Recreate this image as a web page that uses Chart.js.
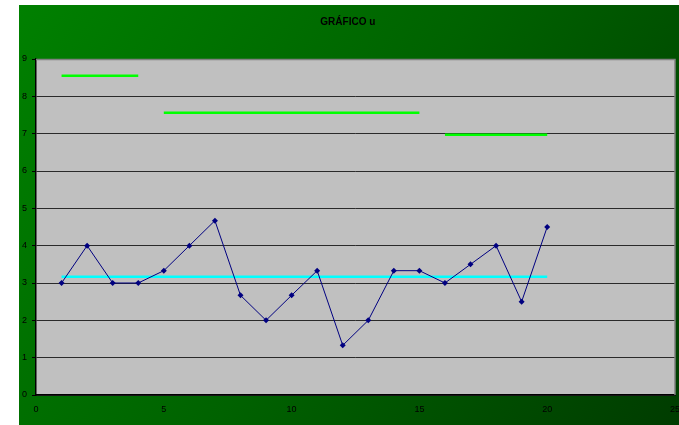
<!DOCTYPE html>
<html>
<head>
<meta charset="utf-8">
<script src="https://cdn.jsdelivr.net/npm/chart.js@4/dist/chart.umd.min.js"></script>
<style>
html,body{margin:0;padding:0;background:#fff;}
#wrap{width:679px;height:425px;}
</style>
</head>
<body>
<div id="wrap"><canvas id="grafico"></canvas></div>
<script>
// muestras y valores
var muestras=[1,2,3,4,5,6,7,8,9,10,11,12,13,14,15,16,17,18,19,20]
var u=[3,4,3,3,3.33,4,4.67,2.67,2,2.67,3.33,1.33,2,3.33,3.33,3,3.5,4,2.5,4.5]
var lsc=[8.55,8.55,8.55,8.55,7.56,7.56,7.56,7.56,7.56,7.56,7.56,7.56,7.56,7.56,7.56,6.97,6.97,6.97,6.97,6.97]
var lc=[3.17,3.17,3.17,3.17,3.17,3.17,3.17,3.17,3.17,3.17,3.17,3.17,3.17,3.17,3.17,3.17,3.17,3.17,3.17,3.17]
var ticksX=[0,5,10,15,20,25]
var ticksY=[0,1,2,3,4,5,6,7,8,9]

function pares(arr){
  return muestras.map((m,i)=>({x:m,y:arr[i]}))
}

// fondo verde degradado y marco del area de trazado
var fondo={
  id:'fondo',
  beforeDraw(chart){
    var c=chart.ctx
    var g=c.createLinearGradient(19,5,679,425)
    g.addColorStop(0,'#008000')
    g.addColorStop(0.5,'#006200')
    g.addColorStop(1,'#003c00')
    c.save()
    c.fillStyle=g
    c.fillRect(19,5,660,420)
    var a=chart.chartArea
    c.fillStyle='#c0c0c0'
    c.fillRect(a.left,a.top,a.right-a.left,a.bottom-a.top)
    c.restore()
  },
  afterDatasetsDraw(chart){
    var c=chart.ctx, a=chart.chartArea
    c.save()
    c.strokeStyle='#808080'
    c.lineWidth=1.5
    c.beginPath()
    c.moveTo(a.left,a.top+0.5)
    c.lineTo(a.right,a.top+0.5)
    c.lineTo(a.right,a.bottom)
    c.stroke()
    c.restore()
  }
}

var fuente={family:'Arial, "Liberation Sans"',size:9}

var ctx=document.getElementById('grafico').getContext('2d')
new Chart(ctx,{
  type:'line',
  data:{
    datasets:[
      {label:'u',data:pares(u),borderColor:'#000080',backgroundColor:'#000080',borderWidth:1,
       pointStyle:'rectRot',pointRadius:3,pointBorderWidth:0,order:1},
      {label:'LC',data:pares(lc),borderColor:'#00ffff',borderWidth:2.5,pointRadius:0,order:2},
      {label:'LSC',data:pares(lsc),borderColor:'#00ff00',borderWidth:2.5,pointRadius:0,order:3,
       segment:{borderColor:s=>s.p0.parsed.y!==s.p1.parsed.y?'rgba(0,0,0,0)':'#00ff00'}}
    ]
  },
  options:{
    responsive:true,
    maintainAspectRatio:false,
    animation:false,
    layout:{padding:{left:19,top:5,right:2.4,bottom:0}},
    plugins:{
      legend:{display:false},
      tooltip:{enabled:false},
      title:{display:true,text:'GRÁFICO u',color:'#000',
        font:{family:'Arial, "Liberation Sans"',size:10,weight:'bold'},
        padding:{top:11,bottom:31}}
    },
    scales:{
      x:{type:'linear',min:0,max:25,
        afterBuildTicks:s=>{s.ticks=ticksX.map(v=>({value:v}))},
        afterFit:s=>{s.height=30;s.paddingLeft=0;s.paddingRight=0},
        grid:{display:false,drawOnChartArea:false,drawTicks:true,tickLength:4,tickColor:'#000'},
        border:{display:true,color:'#000',width:1.5},
        ticks:{color:'#000',padding:5,maxRotation:0,font:fuente}},
      y:{min:0,max:9,
        afterBuildTicks:s=>{s.ticks=ticksY.map(v=>({value:v}))},
        afterFit:s=>{s.width=17;s.paddingTop=0;s.paddingBottom=0},
        grid:{color:'#2a2a2a',lineWidth:1,drawTicks:true,tickLength:4,tickColor:'#000'},
        border:{display:true,color:'#000',width:1.5},
        ticks:{color:'#000',padding:5,font:fuente}}
    }
  },
  plugins:[fondo]
})
</script>
</body>
</html>
